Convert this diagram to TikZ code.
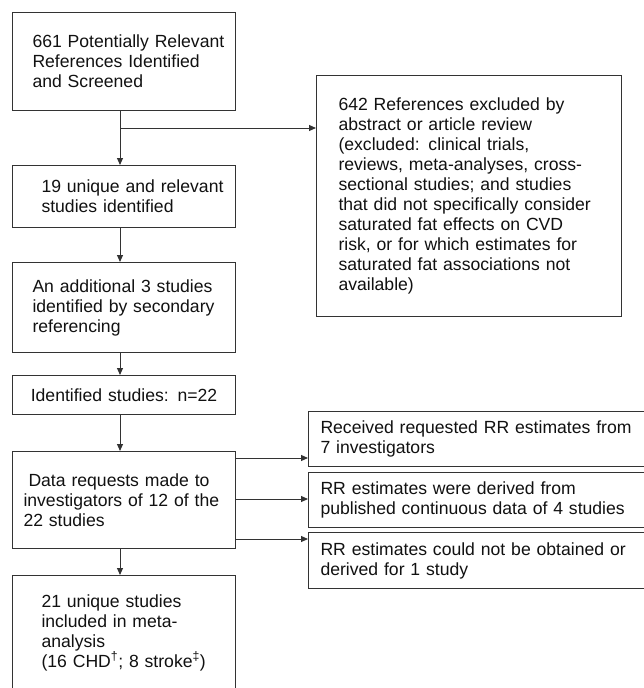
\documentclass[tikz,border=0pt]{standalone}
\usepackage{fontspec}
\setmainfont{Liberation Sans}
\usetikzlibrary{arrows.meta}
\definecolor{ln}{HTML}{333333}
\definecolor{tx}{HTML}{111111}
\newcommand\lline[1]{\mbox{#1}}
\tikzset{
  box/.style={draw=ln, line width=1pt, rectangle, anchor=north west, align=left,
    text=tx, inner ysep=0pt, font=\fontsize{17.6}{20}\selectfont},
  arr/.style={draw=ln, line width=1pt, -{Triangle[length=7pt,width=6pt]}},
}
\begin{document}
\begin{tikzpicture}[x=1pt,y=-1pt]
\useasboundingbox (0,0) rectangle (644,688);
\clip (0,0) rectangle (644,688);
\fill[white] (0,0) rectangle (644,688);
% left column
\node[box, minimum width=223pt, minimum height=98pt, inner xsep=20pt, text width=183pt] (b1) at (12,12)
  {\lline{661 Potentially Relevant}\\\lline{References Identified}\\\lline{and Screened}};
\node[box, minimum width=223pt, minimum height=62pt, inner xsep=29pt, text width=165pt] (b2) at (12,165)
  {\lline{19 unique and relevant}\\\lline{studies identified}};
\node[box, minimum width=223pt, minimum height=90pt, inner xsep=20pt, text width=183pt] (b3) at (12,262)
  {\lline{An additional 3 studies}\\\lline{identified by secondary}\\\lline{referencing}};
\node[box, minimum width=223pt, minimum height=39pt, inner xsep=10pt, text width=203pt, align=center] (b4) at (12,375)
  {Identified studies: n=22};
\node[box, minimum width=223pt, minimum height=97pt, inner xsep=11pt, text width=201pt] (b5) at (12,451)
  {\lline{\hspace{5pt}Data requests made to}\\\lline{investigators of 12 of the}\\\lline{22 studies}};
\node[box, minimum width=223pt, minimum height=114pt, inner xsep=29pt, text width=165pt] (b6) at (12,575)
  {\lline{21 unique studies}\\\lline{included in meta-}\\\lline{analysis}\\\lline{(16 CHD\textsuperscript{\textdagger}; 8 stroke\textsuperscript{\textdaggerdbl})}};
% right column
\node[box, minimum width=305pt, minimum height=241pt, inner xsep=22pt, text width=261pt] (br) at (316,75)
  {642 References excluded by\\abstract or article review\\(excluded: clinical trials,\\reviews, meta-analyses, cross-\\sectional studies; and studies\\that did not specifically consider\\saturated fat effects on CVD\\risk, or for which estimates for\\saturated fat associations not\\available)};
\node[box, minimum width=350pt, minimum height=55pt, inner xsep=12pt, text width=326pt] (r1) at (308,411)
  {Received requested RR estimates from\\7 investigators};
\node[box, minimum width=350pt, minimum height=55pt, inner xsep=12pt, text width=326pt] (r2) at (308,472)
  {RR estimates were derived from\\published continuous data of 4 studies};
\node[box, minimum width=350pt, minimum height=56pt, inner xsep=12pt, text width=326pt] (r3) at (308,532)
  {RR estimates could not be obtained or\\derived for 1 study};
% connectors
\coordinate (j1) at (120,128);
\draw[draw=ln, line width=1pt] (b1.south -| j1) -- (j1);
\draw[arr] (j1) -- (b2.north -| j1);
\draw[arr] (j1) -- (br.west |- j1);
\draw[arr] (b2.south -| j1) -- (b3.north -| j1);
\draw[arr] (b3.south -| j1) -- (b4.north -| j1);
\draw[arr] (b4.south -| j1) -- (b5.north -| j1);
\draw[arr] (b5.south -| j1) -- (b6.north -| j1);
\coordinate (y1) at (0,458);
\coordinate (y2) at (0,499);
\coordinate (y3) at (0,539);
\draw[arr] (b5.east |- y1) -- (r1.west |- y1);
\draw[arr] (b5.east |- y2) -- (r2.west |- y2);
\draw[arr] (b5.east |- y3) -- (r3.west |- y3);
\end{tikzpicture}
\end{document}
